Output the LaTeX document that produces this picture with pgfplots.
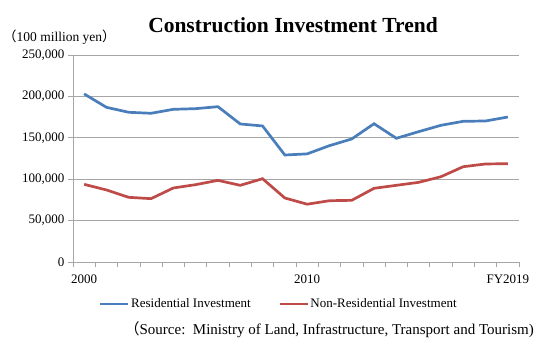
\documentclass[border=0pt]{standalone}
\usepackage{pgfplots}
\pgfplotsset{compat=1.18}
\usepackage{fontspec}
\setmainfont{Liberation Serif}
\newfontfamily\cjk{Noto Sans CJK JP}
\definecolor{resblue}{HTML}{4A7EBB}
\definecolor{nonred}{HTML}{BE4B48}
\definecolor{gridgray}{HTML}{A6A6A6}
\pgfplotstableread{
x res non
0 203000 93800
1 186800 87000
2 180800 78100
3 179600 76500
4 184400 89400
5 185200 93400
6 187600 98600
7 166700 92600
8 164300 100600
9 129200 77300
10 130600 69800
11 140500 74000
12 148600 74500
13 167000 89000
14 149400 92600
15 157400 96200
16 165100 103000
17 169900 115100
18 170300 118400
19 175100 118700
}\datatable
\begin{document}
\begin{tikzpicture}[x=1pt,y=1pt]
\path[use as bounding box] (0,0) rectangle (547,353);
\begin{axis}[
  at={(73pt,91pt)}, anchor=south west,
  width=446pt, height=207pt, scale only axis,
  xmin=-0.5, xmax=19.5, ymin=0, ymax=250000,
  axis lines*=left,
  axis line style={gridgray, line width=0.8pt},
  ytick={0,50000,...,250000},
  ymajorgrids, grid style={gridgray, line width=0.8pt},
  scaled y ticks=false,
  yticklabel style={/pgf/number format/fixed, /pgf/number format/1000 sep={,}, /pgf/number format/assume math mode=true, font=\fontsize{13}{14}\selectfont},
  xtick={0,10,19}, xticklabels={2000,2010,FY2019},
  xticklabel style={font=\fontsize{13}{14}\selectfont, yshift=-4pt},
  minor xtick={-0.5,0.5,...,19.5},
  tick align=outside,
  major tick length=5pt, minor tick length=5pt,
  x tick style={draw=none}, minor x tick style={gridgray, line width=0.8pt, draw=gridgray},
  y tick style={gridgray, line width=0.8pt},
  legend style={at={(0.461,-0.203)}, anchor=center, draw=none, legend columns=2,
    font=\fontsize{13}{14}\selectfont, column sep=0pt,
    /tikz/every even column/.append style={column sep=26pt},
    nodes={inner xsep=1.5pt}},
  legend image code/.code={\draw[#1, line width=2.7pt] (0pt,0pt) -- (28pt,0pt);},
  clip=false,
]
\addplot[resblue, line width=2.7pt] table[x=x, y=res] {\datatable};
\addlegendentry{Residential Investment}
\addplot[nonred, line width=2.7pt] table[x=x, y=non] {\datatable};
\addlegendentry{Non-Residential Investment}
\end{axis}
\node[font=\bfseries\fontsize{21.5}{24}\selectfont] at (293,328) {Construction Investment Trend};
\node[anchor=west, font=\fontsize{13.5}{15}\selectfont, inner sep=0pt] at (3,316) {{\cjk （}100 million yen{\cjk ）}};
\node[anchor=east, font=\fontsize{15}{17}\selectfont, inner sep=0pt] at (534,23) {{\cjk （}Source:\ \ Ministry of Land, Infrastructure, Transport and Tourism)};
\end{tikzpicture}
\end{document}
